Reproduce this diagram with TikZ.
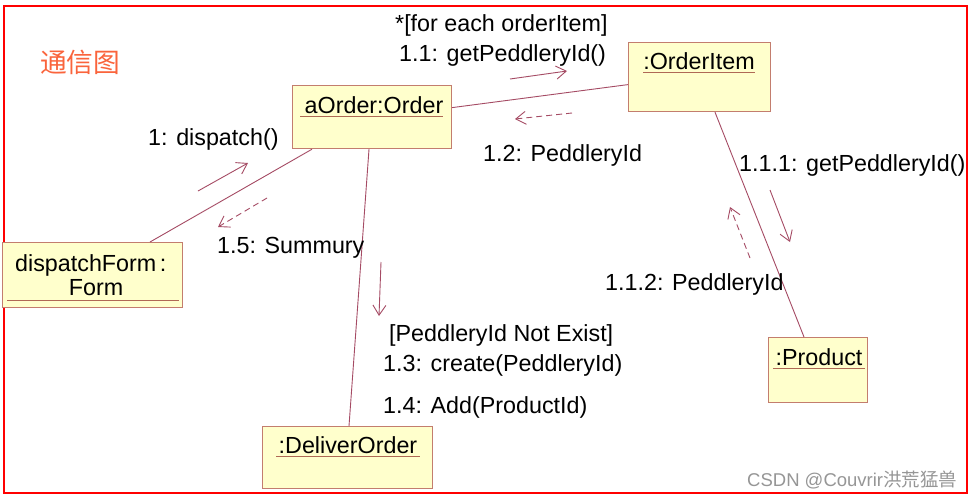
\documentclass[tikz,border=0pt]{standalone}
\usepackage{fontspec}
\setmainfont{Liberation Sans}
\newfontfamily\cjk{Noto Sans CJK SC}
\usetikzlibrary{arrows.meta}
\definecolor{boxfill}{RGB}{255,255,204}
\definecolor{boxline}{RGB}{195,125,110}
\definecolor{ulinec}{RGB}{175,105,85}
\definecolor{linkc}{RGB}{165,75,100}
\definecolor{titlec}{RGB}{250,100,60}
\definecolor{markc}{RGB}{150,150,150}
\begin{document}
\begin{tikzpicture}[x=1pt,y=-1pt,
  obj/.style={draw=boxline, fill=boxfill, line width=1.2pt, inner sep=0, anchor=north west},
  lbl/.style={font=\fontsize{23.3}{28}\selectfont, inner sep=0, anchor=base west},
  olbl/.style={lbl, anchor=base},
  uline/.style={draw=ulinec, line width=1pt},
  link/.style={draw=linkc, line width=0.9pt},
  msg/.style={draw=linkc, line width=0.9pt, -{Straight Barb[length=10pt,width=13pt]}},
  ret/.style={msg, dash pattern=on 6pt off 4pt}]
\useasboundingbox (0,0) rectangle (973,499);
\fill[white] (0,0) rectangle (973,499);
\draw[red, line width=1.5pt] (4,6) rectangle (967,493);

% objects
\node[obj, minimum width=159pt, minimum height=63pt] (order) at (292,85) {};
\node[obj, minimum width=142pt, minimum height=69pt] (item) at (628,42) {};
\node[obj, minimum width=180pt, minimum height=65pt] (form) at (2,242) {};
\node[obj, minimum width=99pt, minimum height=65pt] (product) at (768,337) {};
\node[obj, minimum width=170pt, minimum height=62pt] (deliver) at (262,426) {};

% object names
\node[olbl] (ordert) at (374,113) {aOrder:Order};
\draw[uline] (300,116) -- (443,116);
\node[olbl] (itemt) at (699,69) {:OrderItem};
\draw[uline] (643,72) -- (755,72);
\node[lbl] (formt1) at (15,271) {dispatchForm\kern3.5pt:};
\node[olbl] (formt2) at (96,295) {Form};
\draw[uline] (7,300) -- (179,300);
\node[olbl] (productt) at (819,365) {:Product};
\draw[uline] (773,368) -- (865,368);
\node[olbl] (delivert) at (348,453) {:DeliverOrder};
\draw[uline] (276,456) -- (420,456);

% links
\draw[link] ([yshift=9.5pt]order.east) -- ([yshift=-7.5pt]item.west);
\draw[link] ([xshift=20pt]order.south west) -- ([xshift=148pt]form.north west);
\draw[link] ([xshift=77pt]order.south west) -- ([xshift=87pt]deliver.north west);
\draw[link] ([xshift=87pt]item.south west) -- ([xshift=36pt]product.north west);

% message arrows
\coordinate (m11a) at (510,79);  \coordinate (m11b) at (567,71);
\coordinate (m12a) at (572,113); \coordinate (m12b) at (515,119);
\coordinate (m1a) at (198,191);  \coordinate (m1b) at (248,163);
\coordinate (m15a) at (267,198); \coordinate (m15b) at (218,227);
\coordinate (m13a) at (381,262); \coordinate (m13b) at (379,316);
\coordinate (m111a) at (770,190); \coordinate (m111b) at (790,242);
\coordinate (m112a) at (750,258); \coordinate (m112b) at (730,207);
\draw[msg] (m11a) -- (m11b);
\draw[ret] (m12a) -- (m12b);
\draw[msg] (m1a) -- (m1b);
\draw[ret] (m15a) -- (m15b);
\draw[msg] (m13a) -- (m13b);
\draw[msg] (m111a) -- (m111b);
\draw[ret] (m112a) -- (m112b);

% message labels
\node[lbl] (l11g) at (395,31) {*[for each orderItem]};
\node[lbl] (l11) at (399,61) {1.1: getPeddleryId()};
\node[lbl] (l12) at (483,161) {1.2: PeddleryId};
\node[lbl] (l1) at (148,145) {1: dispatch()};
\node[lbl] (l15) at (217,253) {1.5: Summury};
\node[lbl] (l13g) at (389,341) {[PeddleryId Not Exist]};
\node[lbl] (l13) at (383,371) {1.3: create(PeddleryId)};
\node[lbl] (l14) at (383,413) {1.4: Add(ProductId)};
\node[lbl] (l111) at (739,171) {1.1.1: getPeddleryId()};
\node[lbl] (l112) at (605,290) {1.1.2: PeddleryId};

% title and watermark
\node[inner sep=0, anchor=base west, text=titlec, font=\cjk\fontsize{26.7}{30}\selectfont] (title) at (40,72) {通信图};
\node[inner sep=0, anchor=base west, text=markc, font=\fontsize{18.5}{22}\selectfont] (mark) at (747,486) {CSDN @Couvrir\cjk{洪荒猛兽}};
\end{tikzpicture}
\end{document}
